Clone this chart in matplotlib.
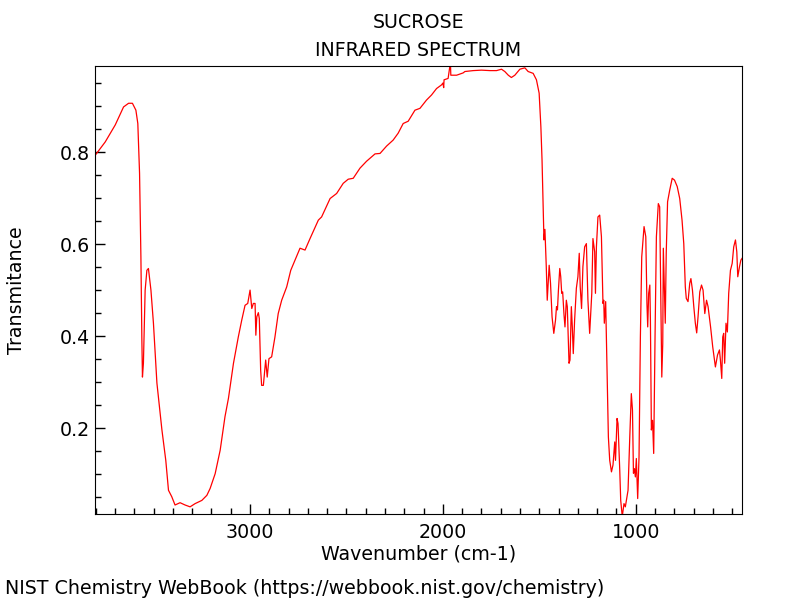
import numpy as np
import matplotlib
matplotlib.use("Agg")
import matplotlib.pyplot as plt
from matplotlib.ticker import MultipleLocator

# values
wavenumber = [
    3803, 3751, 3699, 3656, 3630, 3610, 3592, 3582, 3573, 3566, 3561, 3558, 3553,
    3544, 3535, 3527, 3514, 3501, 3483, 3457, 3437, 3423, 3406, 3389, 3363, 3337,
    3311, 3285, 3250, 3224, 3207, 3181, 3155, 3130, 3112, 3086, 3061, 3043, 3026,
    3012, 3000, 2991, 2983, 2974, 2970, 2965, 2957, 2952, 2945, 2940, 2931, 2919,
    2911, 2902, 2888, 2871, 2854, 2836, 2810, 2789, 2741, 2715, 2689, 2646, 2629,
    2585, 2551, 2517, 2491, 2465, 2430, 2396, 2352, 2326, 2292, 2258, 2232, 2206,
    2180, 2145, 2119, 2085, 2059, 2033, 2007, 2000, 1996, 1994, 1973, 1961, 1959,
    1929, 1895, 1886, 1843, 1800, 1756, 1722, 1696, 1679, 1661, 1645, 1627, 1601,
    1575, 1558, 1532, 1515, 1501, 1492, 1486, 1481, 1476, 1471, 1464, 1459, 1449,
    1442, 1434, 1425, 1416, 1411, 1406, 1401, 1394, 1389, 1384, 1379, 1372, 1367,
    1360, 1355, 1346, 1341, 1334, 1329, 1324, 1317, 1308, 1300, 1293, 1288, 1281,
    1274, 1265, 1256, 1248, 1239, 1228, 1222, 1213, 1209, 1204, 1196, 1187, 1178,
    1170, 1166, 1163, 1156, 1149, 1142, 1135, 1126, 1118, 1109, 1105, 1097, 1092,
    1083, 1078, 1070, 1061, 1054, 1040, 1031, 1023, 1017, 1012, 1007, 1002, 997,
    990, 983, 976, 969, 957, 948, 942, 938, 933, 927, 924, 919, 913, 907, 900, 893,
    883, 876, 871, 865, 860, 857, 850, 847, 842, 835, 824, 811, 799, 785, 772, 760,
    751, 743, 738, 729, 720, 714, 706, 699, 691, 684, 677, 668, 659, 651, 642, 633,
    625, 612, 601, 587, 576, 566, 561, 554, 549, 544, 539, 532, 525, 518, 509, 500,
    492, 483, 476, 471, 462, 455, 447,
]
transmittance = [
    0.793, 0.822, 0.859, 0.898, 0.906, 0.906, 0.891, 0.862, 0.754, 0.572, 0.391, 0.311, 0.341,
    0.500, 0.543, 0.547, 0.500, 0.428, 0.298, 0.196, 0.130, 0.065, 0.051, 0.033, 0.038, 0.033,
    0.029, 0.036, 0.043, 0.054, 0.069, 0.101, 0.152, 0.225, 0.265, 0.341, 0.398, 0.435, 0.467,
    0.471, 0.500, 0.460, 0.471, 0.471, 0.402, 0.442, 0.451, 0.438, 0.326, 0.293, 0.293, 0.348,
    0.311, 0.351, 0.355, 0.398, 0.449, 0.478, 0.507, 0.543, 0.591, 0.587, 0.612, 0.652, 0.659,
    0.699, 0.710, 0.732, 0.741, 0.743, 0.765, 0.780, 0.796, 0.797, 0.813, 0.826, 0.841, 0.862,
    0.867, 0.891, 0.895, 0.913, 0.924, 0.938, 0.946, 0.950, 0.940, 0.957, 0.960, 0.995, 0.967,
    0.967, 0.972, 0.975, 0.977, 0.978, 0.977, 0.977, 0.980, 0.975, 0.967, 0.962, 0.967, 0.980,
    0.983, 0.975, 0.971, 0.957, 0.928, 0.855, 0.783, 0.696, 0.609, 0.632, 0.551, 0.478, 0.554,
    0.515, 0.442, 0.406, 0.435, 0.464, 0.457, 0.500, 0.547, 0.529, 0.493, 0.496, 0.446, 0.420,
    0.478, 0.464, 0.341, 0.348, 0.464, 0.420, 0.362, 0.435, 0.504, 0.529, 0.580, 0.507, 0.460,
    0.551, 0.594, 0.601, 0.478, 0.406, 0.493, 0.612, 0.583, 0.493, 0.594, 0.659, 0.663, 0.616,
    0.471, 0.478, 0.428, 0.475, 0.326, 0.181, 0.130, 0.105, 0.120, 0.170, 0.130, 0.221, 0.210,
    0.109, 0.043, 0.008, 0.036, 0.029, 0.065, 0.181, 0.275, 0.239, 0.102, 0.112, 0.094, 0.134,
    0.047, 0.138, 0.398, 0.572, 0.638, 0.616, 0.471, 0.420, 0.493, 0.511, 0.435, 0.196, 0.217, 0.145, 0.398, 0.616,
    0.688, 0.681, 0.507, 0.311, 0.384, 0.591, 0.471, 0.428, 0.580, 0.692, 0.717, 0.743, 0.739, 0.725, 0.699, 0.652,
    0.601, 0.507, 0.482, 0.475, 0.515, 0.525, 0.500, 0.464, 0.428, 0.407, 0.442, 0.496, 0.511, 0.500, 0.449, 0.478,
    0.464, 0.420, 0.377, 0.333, 0.359, 0.370, 0.348, 0.308, 0.398, 0.406, 0.341, 0.428, 0.409, 0.493, 0.543, 0.558,
    0.594, 0.609, 0.583, 0.529, 0.551, 0.565, 0.570,
]

fs = 13.7

fig = plt.figure(figsize=(8, 6), dpi=100)
ax = fig.add_axes([0.119, 0.143, 0.809, 0.747])

ax.plot(wavenumber, transmittance, color="red", linewidth=0.9)

ax.set_xlim(3803, 447)
ax.set_ylim(0.013, 0.987)

ax.xaxis.set_major_locator(MultipleLocator(1000))
ax.xaxis.set_minor_locator(MultipleLocator(100))
ax.yaxis.set_major_locator(MultipleLocator(0.2))
ax.yaxis.set_minor_locator(MultipleLocator(0.05))
ax.tick_params(which="both", direction="in", top=False, right=False, labelsize=fs)
ax.tick_params(which="major", length=7, width=1)
ax.tick_params(which="minor", length=4.5, width=1)
ax.tick_params(axis="x", which="major", pad=6)

ax.set_xlabel("Wavenumber (cm-1)", fontsize=fs)
ax.set_ylabel("Transmitance", fontsize=fs)
ax.xaxis.set_label_coords(0.5, -0.068)
ax.yaxis.set_label_coords(-0.107, 0.5)

fig.text(0.523, 0.962, "SUCROSE", ha="center", va="center", fontsize=fs)
fig.text(0.523, 0.915, "INFRARED SPECTRUM", ha="center", va="center", fontsize=fs)
fig.text(0.006, 0.019, "NIST Chemistry WebBook (https://webbook.nist.gov/chemistry)",
         ha="left", va="center", fontsize=fs)

fig.savefig("out.png", dpi=100)
